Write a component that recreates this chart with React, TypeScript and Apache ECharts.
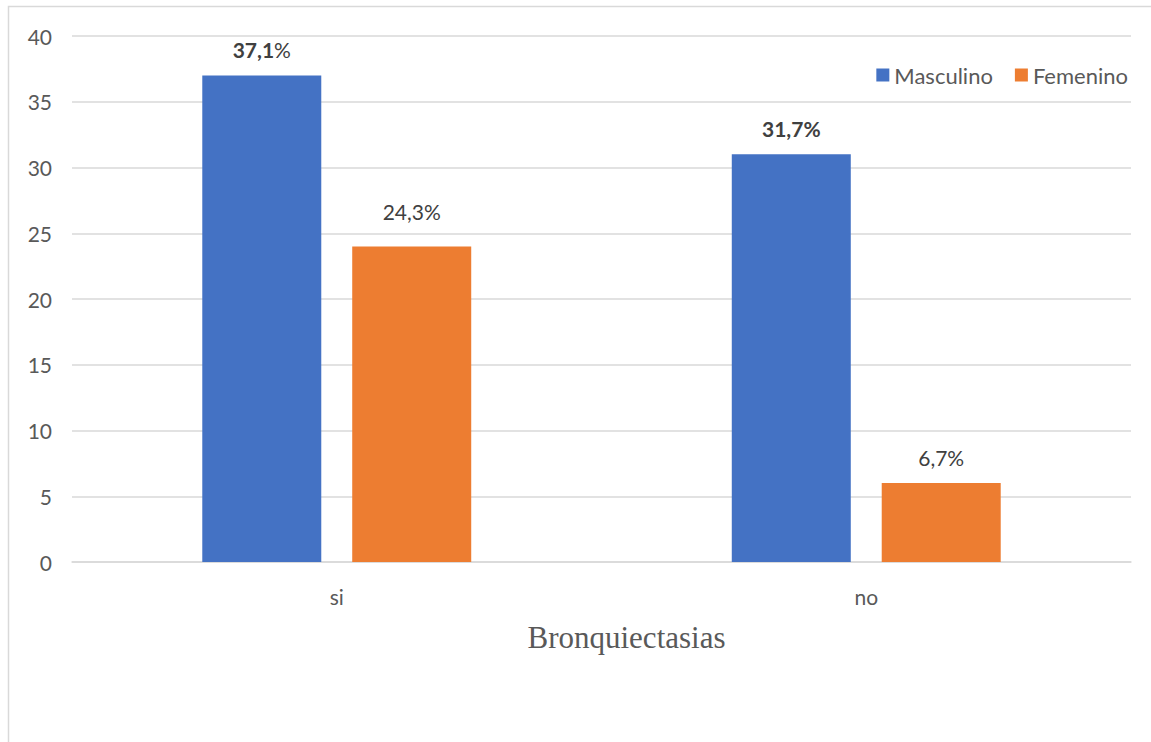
import React, { useEffect, useRef } from "react";
import * as echarts from "echarts";

const categories = ["si", "no"];
const masculino = [37, 31];
const femenino = [24, 6];
const masculinoLabels = ["{b|37,1}{n|%}", "{b|31,7%}"];
const femeninoLabels = ["24,3%", "6,7%"];
const yTicks = [0, 5, 10, 15, 20, 25, 30, 35, 40];
const axisTitle = "Bronquiectasias";

export default function App() {
  const ref = useRef<HTMLDivElement>(null);
  useEffect(() => {
    if (!ref.current) return;
    const chart = echarts.init(ref.current, null, { renderer: "svg" });
    const font = "Lato, 'Open Sans', sans-serif";
    const fs = 21;
    chart.setOption({
      animation: false,
      textStyle: { fontFamily: font },
      graphic: [
        {
          type: "rect",
          shape: { x: 8.5, y: 6.5, width: 1200, height: 800 },
          style: { fill: "none", stroke: "#d9d9d9", lineWidth: 1.5 },
          silent: true,
        },
      ],
      legend: {
        right: 18,
        top: 59,
        itemWidth: 13,
        itemHeight: 13,
        itemGap: 22,
        icon: "rect",
        textStyle: { fontSize: 22, color: "#595959", fontFamily: font },
        data: ["Masculino", "Femenino"],
      },
      grid: { left: 72, right: 20, top: 36, bottom: 180, containLabel: false },
      xAxis: {
        type: "category",
        data: categories,
        axisLine: { lineStyle: { color: "#d9d9d9", width: 1.5 } },
        axisTick: { show: false },
        axisLabel: { fontSize: fs, color: "#595959", margin: 24, fontFamily: font },
        name: axisTitle,
        nameLocation: "middle",
        nameGap: 60,
        nameTextStyle: {
          fontSize: 31,
          color: "#595959",
          padding: [0, 0, 0, 50],
          fontFamily: "'Liberation Serif', 'DejaVu Serif', serif",
        },
      },
      yAxis: {
        type: "value",
        min: yTicks[0],
        max: yTicks[yTicks.length - 1],
        interval: 5,
        axisLine: { show: false },
        axisTick: { show: false },
        splitLine: { lineStyle: { color: "#d9d9d9", width: 1.5 } },
        axisLabel: { fontSize: fs, color: "#595959", margin: 20, fontFamily: font },
      },
      series: [
        {
          name: "Masculino",
          type: "bar",
          barWidth: 119,
          barGap: "26%",
          itemStyle: { color: "#4472c4" },
          data: masculino.map((v, i) => ({
            value: v,
            label: { formatter: masculinoLabels[i] },
          })),
          label: {
            show: true,
            position: "top",
            distance: 15,
            rich: {
              b: { fontSize: fs, fontWeight: "bold", color: "#404040", fontFamily: font },
              n: { fontSize: fs, color: "#404040", fontFamily: font },
            },
          },
        },
        {
          name: "Femenino",
          type: "bar",
          barWidth: 119,
          itemStyle: { color: "#ed7d31" },
          data: femenino.map((v, i) => ({
            value: v,
            label: { formatter: femeninoLabels[i], distance: i === 0 ? 24 : 15 },
          })),
          label: {
            show: true,
            position: "top",
            fontSize: fs,
            color: "#404040",
            fontFamily: font,
          },
        },
      ],
    });
    return () => chart.dispose();
  }, []);
  return (
    <div
      ref={ref}
      style={{ position: "absolute", left: 0, top: 0, width: 1151, height: 742, background: "#fff" }}
    />
  );
}
